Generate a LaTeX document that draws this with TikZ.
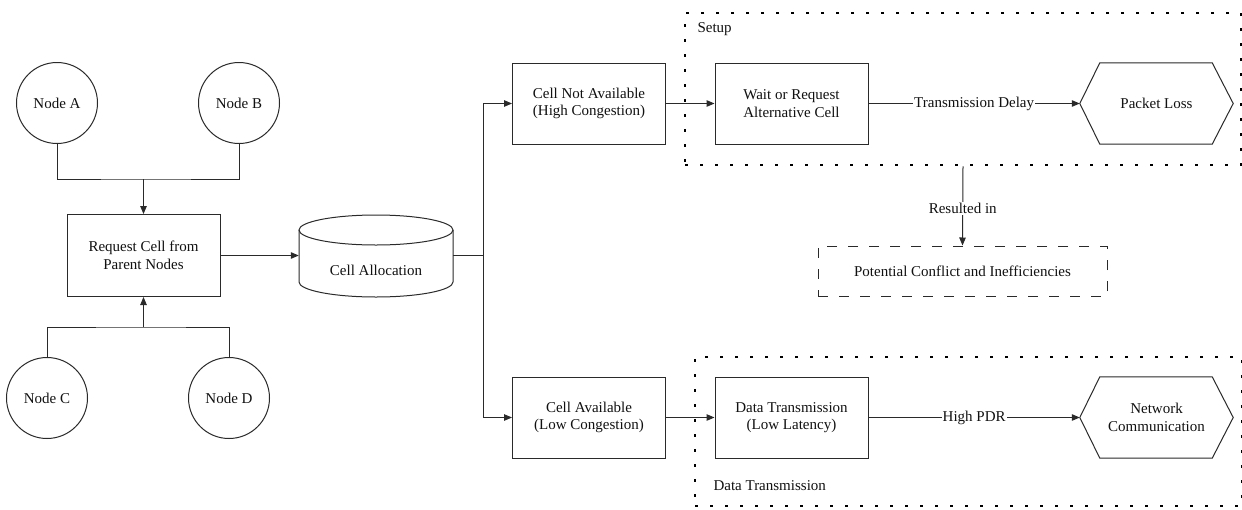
\documentclass[tikz,border=0pt]{standalone}
\usepackage{fontspec}
\setmainfont{Liberation Serif}
\newfontfamily\diagserif{Liberation Serif}
\usetikzlibrary{arrows.meta,calc}
\definecolor{ink}{HTML}{111111}
\definecolor{linec}{HTML}{2A2A2A}
\begin{document}
\begin{tikzpicture}[x=1pt,y=-1pt,
  every node/.style={font=\diagserif\fontsize{15}{17.5}\selectfont, text=ink, align=center},
  conn/.style={draw=linec, line width=1pt},
  arr/.style={conn, -{Triangle[length=8pt,width=6.5pt]}},
  circnode/.style={circle, draw=linec, line width=1pt, minimum size=81pt, inner sep=0pt},
  boxnode/.style={rectangle, draw=linec, line width=1pt, minimum width=153pt, minimum height=81pt, inner sep=0pt},
  plain/.style={rectangle, minimum width=153pt, minimum height=81pt, inner sep=0pt},
  dotbox/.style={rectangle, draw=black, line width=2.8pt, dash pattern=on 2.8pt off 12.2pt, inner sep=0pt},
  dashbox/.style={rectangle, draw=linec, line width=1pt, dash pattern=on 10pt off 11pt, inner sep=0pt},
  lbl/.style={fill=white, inner sep=1pt}
]
\useasboundingbox[fill=white] (0,0) rectangle (1242,509);

% group boxes
\node[dotbox, minimum width=556pt, minimum height=152pt] (setup) at (963,89) {};
\node[dotbox, minimum width=547pt, minimum height=149pt] (datagrp) at (968.5,431.5) {};
\node[anchor=west] (setuplbl) at (694,29) {Setup};
\node[anchor=west] (datalbl) at (710,486) {Data Transmission};

% circles
\node[circnode] (A) at (57,103) {Node A};
\node[circnode] (B) at (239,103) {Node B};
\node[circnode] (C) at (47,398) {Node C};
\node[circnode] (D) at (229,398) {Node D};

% boxes
\node[boxnode, minimum height=82pt] (req) at (143.5,255.5) {Request Cell from\\Parent Nodes};
\node[boxnode] (cna) at (589,103.5) {Cell Not Available\\(High Congestion)};
\node[boxnode] (cav) at (589,417.5) {Cell Available\\(Low Congestion)};
\node[boxnode] (wait) at (791.5,103.5) {Wait or Request\\Alternative Cell};
\node[boxnode] (dt) at (791.5,417.5) {Data Transmission\\(Low Latency)};

% cylinder
\node[rectangle, minimum width=154pt, minimum height=82pt, inner sep=0pt] (ca) at (376,255.5) {};
\draw[conn, fill=white] (299,230) -- (299,282) arc[start angle=180, end angle=360, x radius=77, y radius=-15] -- (453,230);
\draw[conn] (376,230) ellipse[x radius=77, y radius=15];
\node (catext) at (376,270) {Cell Allocation};

% hexagons
\node[plain] (pl) at (1156.5,103.5) {Packet Loss};
\draw[conn] (pl.west) -- ([xshift=20pt]pl.north west) -- ([xshift=-21pt]pl.north east) -- (pl.east) -- ([xshift=-21pt]pl.south east) -- ([xshift=20pt]pl.south west) -- cycle;
\node[plain] (nc) at (1156.5,417.5) {Network\\Communication};
\draw[conn] (nc.west) -- ([xshift=20pt]nc.north west) -- ([xshift=-21pt]nc.north east) -- (nc.east) -- ([xshift=-21pt]nc.south east) -- ([xshift=20pt]nc.south west) -- cycle;

% dashed box
\node[dashbox, minimum width=289pt, minimum height=50pt] (pc) at (962.5,271) {Potential Conflict and Inefficiencies};

% connectors
\coordinate (jab) at (143.5,179);
\coordinate (jcd) at (143.5,327);
\draw[conn] (A.south) |- (jab) -| (B.south);
\draw[arr] (jab) -- (req.north);
\draw[conn] (C.north) |- (jcd) -| (D.north);
\draw[arr] (jcd) -- (req.south);
\draw[arr] (req.east) -- (ca.west);
\coordinate (br) at (483,255.5);
\draw[conn] (ca.east) -- (br);
\draw[arr] (br) |- (cna.west);
\draw[arr] (br) |- (cav.west);
\draw[arr] (cna.east) -- (wait.west);
\draw[arr] (cav.east) -- (dt.west);
\draw[arr] (wait.east) -- node[lbl] {Transmission Delay} (pl.west);
\draw[arr] (dt.east) -- node[lbl] {High PDR} (nc.west);
\draw[arr] (setup.south) -- node[lbl, pos=0.53] {Resulted in} (pc.north);
\end{tikzpicture}
\end{document}
